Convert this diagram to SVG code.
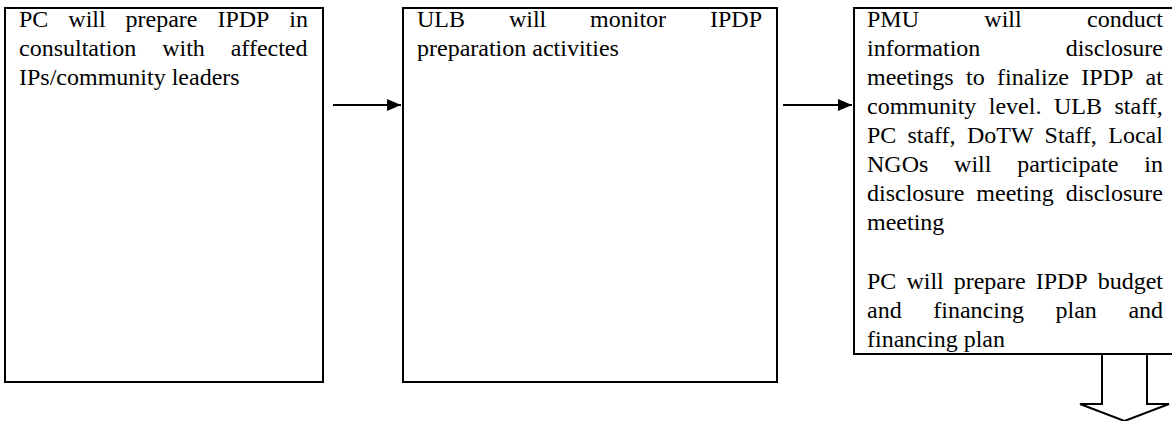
<svg xmlns="http://www.w3.org/2000/svg" width="1172" height="421" viewBox="0 0 1172 421">
<style>
.box{fill:#fff;stroke:#000;stroke-width:2}
.t{font-family:"Liberation Serif","Times New Roman",serif;font-size:24px;fill:#000}
.con{stroke:#000;stroke-width:2;fill:none}
.big{fill:#fff;stroke:#000;stroke-width:2;stroke-linejoin:miter}
</style>
<defs>
<marker id="ah" markerWidth="14" markerHeight="12" refX="14" refY="6" orient="auto" markerUnits="userSpaceOnUse">
<path d="M0,0 L14,6 L0,12 Z" fill="#000"/>
</marker>
</defs>
<rect width="1172" height="421" fill="#fff"/>
<g id="node1">
<rect class="box" x="5" y="8" width="318" height="374"/>
<text class="t"><tspan x="19" y="27">PC</tspan><tspan x="68.3" y="27">will</tspan><tspan x="125.5" y="27">prepare</tspan><tspan x="217.4" y="27">IPDP</tspan><tspan x="289.3" y="27">in</tspan></text>
<text class="t"><tspan x="19" y="56">consultation</tspan><tspan x="162.2" y="56">with</tspan><tspan x="230.7" y="56">affected</tspan></text>
<text class="t" x="19" y="85">IPs/community leaders</text>
</g>
<g id="node2">
<rect class="box" x="403" y="8" width="374" height="374"/>
<text class="t"><tspan x="417" y="27">ULB</tspan><tspan x="508.9" y="27">will</tspan><tspan x="590.1" y="27">monitor</tspan><tspan x="710" y="27">IPDP</tspan></text>
<text class="t" x="417" y="56">preparation activities</text>
</g>
<g id="node3">
<rect class="box" x="854" y="8" width="324" height="346"/>
<text class="t"><tspan x="867" y="27">PMU</tspan><tspan x="984.3" y="27">will</tspan><tspan x="1087" y="27">conduct</tspan></text>
<text class="t"><tspan x="867" y="56">information</tspan><tspan x="1065.7" y="56">disclosure</tspan></text>
<text class="t"><tspan x="867" y="85">meetings</tspan><tspan x="966" y="85">to</tspan><tspan x="997" y="85">finalize</tspan><tspan x="1081.3" y="85">IPDP</tspan><tspan x="1145.6" y="85">at</tspan></text>
<text class="t"><tspan x="867" y="114">community</tspan><tspan x="988.8" y="114">level.</tspan><tspan x="1054" y="114">ULB</tspan><tspan x="1114.5" y="114">staff,</tspan></text>
<text class="t"><tspan x="867" y="143">PC</tspan><tspan x="907.4" y="143">staff,</tspan><tspan x="967" y="143">DoTW</tspan><tspan x="1044.6" y="143">Staff,</tspan><tspan x="1108.3" y="143">Local</tspan></text>
<text class="t"><tspan x="867" y="172">NGOs</tspan><tspan x="954.1" y="172">will</tspan><tspan x="1017.2" y="172">participate</tspan><tspan x="1144.3" y="172">in</tspan></text>
<text class="t"><tspan x="867" y="201">disclosure</tspan><tspan x="976.35" y="201">meeting</tspan><tspan x="1065.7" y="201">disclosure</tspan></text>
<text class="t" x="867" y="230">meeting</text>
<text class="t"><tspan x="867" y="289">PC</tspan><tspan x="906.4" y="289">will</tspan><tspan x="953.7" y="289">prepare</tspan><tspan x="1035.7" y="289">IPDP</tspan><tspan x="1097.7" y="289">budget</tspan></text>
<text class="t"><tspan x="867" y="318">and</tspan><tspan x="933.3" y="318">financing</tspan><tspan x="1055.5" y="318">plan</tspan><tspan x="1128.4" y="318">and</tspan></text>
<text class="t" x="867" y="347">financing plan</text>
</g>
<g id="connectors">
<line class="con" x1="333" y1="105" x2="401" y2="105" marker-end="url(#ah)"/>
<line class="con" x1="783" y1="105" x2="852" y2="105" marker-end="url(#ah)"/>
<path class="big" d="M1102,355 L1102,404 L1080,404 L1124.5,421 L1169,404 L1147,404 L1147,355"/>
</g>
</svg>
